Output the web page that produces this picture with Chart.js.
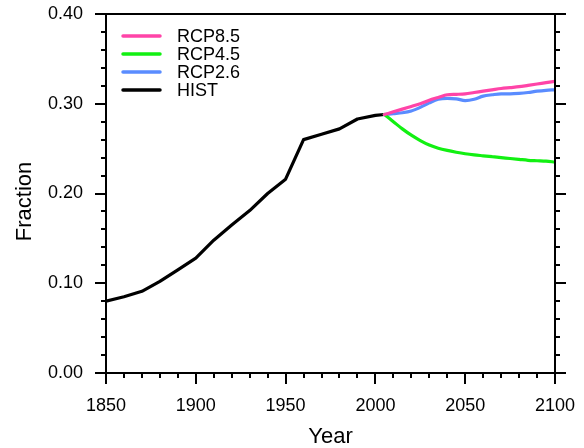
<!DOCTYPE html>
<html>
<head>
<meta charset="utf-8">
<script src="https://cdn.jsdelivr.net/npm/chart.js@4/dist/chart.umd.min.js"></script>
<style>
  html, body { margin: 0; padding: 0; background: #fff; }
  canvas { display: block; }
</style>
</head>
<body>
<canvas id="fracChart" width="584" height="448"></canvas>
<script>
// historical run, decadal
const histYears = [1850, 1860, 1870, 1880, 1890, 1900, 1910, 1920, 1930, 1940, 1950, 1960, 1970, 1980, 1990, 2000, 2005];
const histFrac  = [0.080, 0.085, 0.091, 0.102, 0.115, 0.128, 0.148, 0.165, 0.181, 0.200, 0.216, 0.260, 0.266, 0.272, 0.283, 0.287, 0.288];

// scenario runs, every 5 years from 2005
const futureYears = [2005, 2010, 2015, 2020, 2025, 2030, 2035, 2040, 2045, 2050, 2055, 2060, 2065, 2070, 2075, 2080, 2085, 2090, 2095, 2100];
const rcp85 = [0.288, 0.291, 0.294, 0.297, 0.300, 0.304, 0.307, 0.310, 0.3105, 0.311, 0.3125, 0.314, 0.3155, 0.317, 0.318, 0.319, 0.3205, 0.322, 0.3235, 0.325];
const rcp45 = [0.288, 0.280, 0.272, 0.265, 0.259, 0.254, 0.2505, 0.248, 0.246, 0.2443, 0.243, 0.242, 0.241, 0.240, 0.239, 0.238, 0.237, 0.2365, 0.236, 0.235];
const rcp26 = [0.288, 0.289, 0.290, 0.292, 0.296, 0.301, 0.305, 0.306, 0.3055, 0.3035, 0.305, 0.3085, 0.310, 0.311, 0.311, 0.3115, 0.3125, 0.314, 0.315, 0.3155];

const yTicks = [0, 0.1, 0.2, 0.3, 0.4];
const xTicks = [1850, 1900, 1950, 2000, 2050, 2100];

const FONT = '"Liberation Sans", Arial, Helvetica, sans-serif';

const toPoints = (xs, ys) => xs.map((x, i) => ({ x: x, y: ys[i] }));

const series = (label, xs, ys, color, tension) => ({
    label: label,
    data: toPoints(xs, ys),
    borderColor: color,
    backgroundColor: color,
    borderWidth: 3.2,
    pointRadius: 0,
    tension: tension,
    cubicInterpolationMode: tension ? 'monotone' : 'default',
    borderCapStyle: 'round',
    borderJoinStyle: 'round'
});

// frame + outward tick marks, majors longer than minors
const frameTicks = {
    id: 'frameTicks',
    afterDatasetsDraw(chart) {
        const { ctx, chartArea: a, scales } = chart;
        const xs = scales.x, ys = scales.y;
        ctx.save();
        ctx.strokeStyle = '#000';
        ctx.lineWidth = 2;
        ctx.strokeRect(a.left, a.top, a.right - a.left, a.bottom - a.top);

        ctx.beginPath();
        // y ticks on both sides
        for (let i = 0; i <= 20; i++) {
            const v = i * 0.02;
            const py = Math.round(ys.getPixelForValue(v));
            const len = i % 5 === 0 ? 11 : 5;
            ctx.moveTo(a.left - len, py); ctx.lineTo(a.left, py);
            ctx.moveTo(a.right, py); ctx.lineTo(a.right + len, py);
        }
        // x ticks along the bottom
        for (let yr = 1850; yr <= 2100; yr += 10) {
            const px = Math.round(xs.getPixelForValue(yr));
            const len = (yr - 1850) % 50 === 0 ? 11 : 5;
            ctx.moveTo(px, a.bottom); ctx.lineTo(px, a.bottom + len);
        }
        ctx.stroke();

        // axis titles
        ctx.fillStyle = '#000';
        ctx.font = '22px ' + FONT;
        ctx.textAlign = 'center';
        ctx.textBaseline = 'alphabetic';
        ctx.fillText('Year', (a.left + a.right) / 2, 443);
        ctx.translate(31, (a.top + a.bottom) / 2 + 8);
        ctx.rotate(-Math.PI / 2);
        ctx.fillText('Fraction', 0, 0);
        ctx.restore();
    }
};

// legend drawn inside the plot, top-left
const insetLegend = {
    id: 'insetLegend',
    afterDatasetsDraw(chart) {
        const { ctx } = chart;
        ctx.save();
        ctx.font = '18px ' + FONT;
        ctx.textBaseline = 'middle';
        ctx.fillStyle = '#000';
        chart.data.datasets.forEach((ds, i) => {
            const y = 36 + i * 18;
            ctx.strokeStyle = ds.borderColor;
            ctx.lineWidth = 3.5;
            ctx.lineCap = 'round';
            ctx.beginPath();
            ctx.moveTo(123, y); ctx.lineTo(160, y);
            ctx.stroke();
            ctx.fillText(ds.label, 177, y + 1);
        });
        ctx.restore();
    }
};

// keep the plot box fixed: no extra room for overhanging tick labels
const noLabelPad = (s) => {
    s.paddingTop = 0; s.paddingBottom = 0;
    s.paddingLeft = 0; s.paddingRight = 0;
};

new Chart(document.getElementById('fracChart'), {
    type: 'line',
    data: {
        datasets: [
            series('RCP8.5', futureYears, rcp85, '#ff44a8', 0.4),
            series('RCP4.5', futureYears, rcp45, '#12f012', 0.4),
            series('RCP2.6', futureYears, rcp26, '#5a8cff', 0.4),
            series('HIST', histYears, histFrac, '#000000', 0)
        ]
    },
    options: {
        responsive: false,
        animation: false,
        layout: { padding: { top: 14, right: 29, left: 0, bottom: 0 } },
        plugins: {
            legend: { display: false },
            tooltip: { enabled: false }
        },
        scales: {
            x: {
                type: 'linear',
                min: 1850,
                max: 2100,
                afterBuildTicks: (s) => { s.ticks = xTicks.map(v => ({ value: v })); },
                afterFit: (s) => { s.height = 75; noLabelPad(s); },
                grid: { display: false, drawTicks: false },
                border: { display: false },
                ticks: {
                    padding: 22,
                    color: '#000',
                    font: { family: FONT, size: 18 },
                    maxRotation: 0,
                    callback: (v) => String(v)
                }
            },
            y: {
                min: 0,
                max: 0.4,
                afterBuildTicks: (s) => { s.ticks = yTicks.map(v => ({ value: v })); },
                afterFit: (s) => { s.width = 106; noLabelPad(s); },
                grid: { display: false, drawTicks: false },
                border: { display: false },
                ticks: {
                    padding: 23,
                    color: '#000',
                    font: { family: FONT, size: 18 },
                    callback: (v) => Number(v).toFixed(2)
                }
            }
        }
    },
    plugins: [frameTicks, insetLegend]
});
</script>
</body>
</html>
